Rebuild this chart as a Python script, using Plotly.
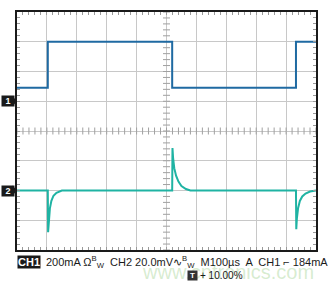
import numpy as np
import plotly.graph_objects as go

# ---------------- data ----------------
# CH1: current (mA), 200 mA/div, ground marker at +1 div
ch1_t = [0, 103, 103, 519, 519, 933, 933, 1000]          # µs
ch1_v = [90, 90, 400, 400, 90, 90, 400, 400]              # mA
# CH2: voltage (mV, AC coupled), 20 mV/div, ground marker at -2 div
ch2_t = [0, 103, 104, 106, 110, 115, 122, 132, 150,
         519, 520, 522, 526, 532, 540, 550, 565, 580,
         933, 934, 936, 940, 946, 954, 965, 980, 1000]
ch2_v = [0, 0, -28, -20, -12, -7, -3.5, -1.5, 0,
         0, 28.5, 22, 15, 10, 6, 3, 1, 0,
         0, -26, -19, -12, -7, -4, -2, -0.7, 0]

CH1_SCALE = 200.0   # mA/div
CH2_SCALE = 20.0    # mV/div
CH1_OFFSET = 1.0    # div
CH2_OFFSET = -2.0   # div
T_SCALE = 100.0     # µs/div

# ---------------- geometry ----------------
W, H = 328, 283
L, R, T, B = 17, 11, 10, 33
PW, PH = W - L - R, H - T - B


def px_x(px):
    return (px - L) / PW


def px_y(py):
    return (H - B - py) / PH


def div_y(d):
    return (d + 4) / 8


fig = go.Figure()

# center cross minor ticks
xt = np.arange(0, 10.001, 0.2)
yt = np.arange(-4, 4.001, 0.2)
fig.add_trace(go.Scatter(x=xt, y=[0] * len(xt), mode="markers",
                         marker=dict(symbol="line-ns", size=5,
                                     line=dict(color="#a0a0a0", width=1)),
                         hoverinfo="skip", showlegend=False))
fig.add_trace(go.Scatter(x=[5] * len(yt), y=yt, mode="markers",
                         marker=dict(symbol="line-ew", size=5,
                                     line=dict(color="#a0a0a0", width=1)),
                         hoverinfo="skip", showlegend=False))

fig.add_trace(go.Scatter(
    x=[t / T_SCALE for t in ch1_t],
    y=[v / CH1_SCALE + CH1_OFFSET for v in ch1_v],
    mode="lines", line=dict(color="#1f6aa2", width=2),
    showlegend=False, hoverinfo="skip"))
fig.add_trace(go.Scatter(
    x=[t / T_SCALE for t in ch2_t],
    y=[v / CH2_SCALE + CH2_OFFSET for v in ch2_v],
    mode="lines", line=dict(color="#1fb3a3", width=2),
    showlegend=False, hoverinfo="skip"))

axis_common = dict(showgrid=True, gridcolor="#c8c8c8", gridwidth=1,
                   zeroline=False, showline=True, linecolor="#1a1a1a",
                   linewidth=2, mirror="ticks", ticks="inside", ticklen=3,
                   tickcolor="#9a9a9a", showticklabels=False,
                   minor=dict(ticks="inside", ticklen=3, tickcolor="#9a9a9a",
                              showgrid=False))
fig.update_xaxes(range=[0, 10], dtick=1, **axis_common)
fig.update_xaxes(minor_dtick=0.2)
fig.update_yaxes(range=[-4, 4], dtick=1, **axis_common)
fig.update_yaxes(minor_dtick=0.2)

ann = []
shapes = []
FONT = "Liberation Sans"

# channel ground markers
for label, off in (("1", CH1_OFFSET), ("2", CH2_OFFSET)):
    yc = div_y(off)
    ann.append(dict(x=px_x(0.5), y=yc, xref="paper", yref="paper", text="<b>%s</b>" % label,
                    showarrow=False, font=dict(family=FONT, size=9, color="white"),
                    bgcolor="#1a1a1a", borderpad=0, width=12, height=10,
                    xanchor="left", yanchor="middle"))
    shapes.append(dict(type="path", xref="paper", yref="paper",
                       path="M %f %f L %f %f L %f %f Z" % (
                           px_x(12.5), yc + 5 / PH, px_x(17), yc,
                           px_x(12.5), yc - 5 / PH),
                       fillcolor="#1a1a1a", line=dict(width=0)))

# watermark
ann.append(dict(x=px_x(229), y=px_y(272), xref="paper", yref="paper",
                text="www.cntronics.com", showarrow=False,
                font=dict(family=FONT, size=20, color="rgba(140,200,120,0.35)"),
                xanchor="center", yanchor="middle"))

fs = 11
ly = px_y(262)
ann.append(dict(x=px_x(17), y=ly, xref="paper", yref="paper", text="<b>CH1</b>",
                showarrow=False, font=dict(family=FONT, size=fs, color="white"),
                bgcolor="#1a1a1a", borderpad=0, xanchor="left", yanchor="middle"))
line1 = ("200mA Ω<sup>B</sup><sub>W</sub>  CH2 20.0mV∿<sup>B</sup><sub>W</sub>"
         "  M100µs  A  CH1 ⌐ 184mA")
ann.append(dict(x=px_x(44), y=ly, xref="paper", yref="paper", text=line1,
                showarrow=False, font=dict(family=FONT, size=fs, color="#1a1a1a"),
                xanchor="left", yanchor="middle"))

ly2 = px_y(276)
ann.append(dict(x=px_x(188), y=ly2, xref="paper", yref="paper", text="<b>T</b>",
                showarrow=False, font=dict(family=FONT, size=8, color="white"),
                bgcolor="#333333", borderpad=0, width=9, height=9,
                xanchor="left", yanchor="middle"))
ann.append(dict(x=px_x(199), y=ly2, xref="paper", yref="paper", text="+ 10.00%",
                showarrow=False, font=dict(family=FONT, size=10, color="#1a1a1a"),
                xanchor="left", yanchor="middle"))

fig.update_layout(width=W, height=H, margin=dict(l=L, r=R, t=T, b=B),
                  paper_bgcolor="white", plot_bgcolor="white",
                  annotations=ann, shapes=shapes, showlegend=False)

fig.write_html("out.html", config={"displayModeBar": False})
